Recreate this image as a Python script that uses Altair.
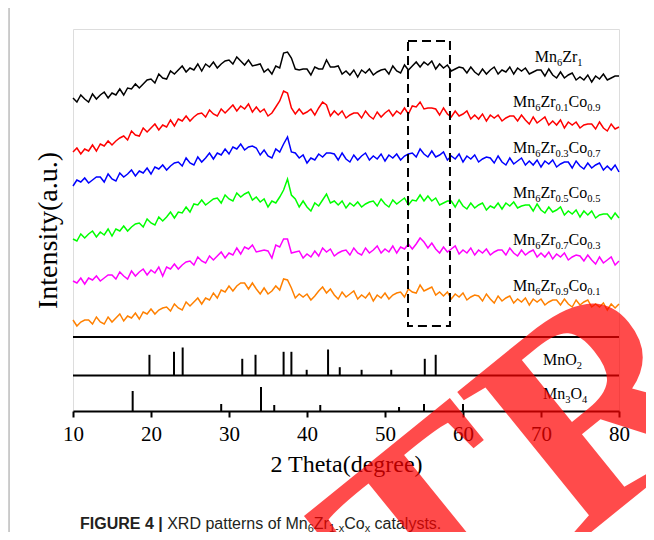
import altair as alt
import pandas as pd

# ---------------- data ----------------
theta = [10 + 0.5 * i for i in range(141)]  # 2θ grid, 10..80

black = [313,309,316,312,309,317,312,316,319,313, 318,316,322,316,323,322,327,323,327,331,
         332,328,337,333,332,340,337,341,345,339, 343,341,347,340,347,344,349,343,347,350,
         351,347,354,350,346,351,345,346,347,339, 342,337,345,343,358,359,353,342,341,342,
         342,336,344,342,342,351,344,344,345,337, 340,336,341,334,341,338,342,336,339,341,
         342,337,345,340,338,346,341,345,349,344, 349,346,350,342,347,343,346,340,342,344,
         343,338,344,339,336,342,337,341,344,337, 341,339,344,337,343,340,343,337,339,341,
         341,335,342,336,333,339,333,336,338,331, 334,331,336,329,335,332,337,331,333,335,
         335]
red = [259,263,257,262,260,266,260,267,265,270, 266,270,273,275,271,280,276,275,283,279,
       283,287,281,286,284,291,285,292,290,295, 290,294,297,298,294,301,297,295,302,298,
       302,306,300,305,302,307,299,304,299,302, 295,298,304,310,320,318,303,297,302,297,
       299,302,296,303,309,306,295,300,296,300, 293,296,298,298,293,300,295,292,299,294,
       298,301,295,300,297,303,297,305,304,309, 302,303,303,302,296,303,297,294,300,295,
       297,300,292,296,292,297,290,296,293,296, 290,293,295,295,290,296,291,287,294,288,
       291,294,286,290,286,291,283,289,286,289, 283,286,287,287,282,289,283,280,287,282,
       284]
blue = [225,231,229,233,228,231,234,234,229,237, 232,230,238,234,237,241,235,240,238,243,
        237,244,242,246,241,245,248,249,245,253, 248,246,254,249,253,258,252,258,256,262,
        257,264,262,267,261,264,265,263,256,261, 255,253,262,259,267,274,259,258,253,256,
        248,253,251,257,254,258,258,257,251,258, 252,249,256,251,255,258,251,255,252,257,
        250,256,253,257,251,255,257,258,254,262, 257,254,260,254,256,259,251,255,252,257,
        249,255,252,256,249,252,254,253,248,255, 249,246,253,247,250,253,246,250,246,251,
        244,250,247,251,244,247,249,249,243,250, 245,242,248,243,246,248,241,245,241,246,
        239]
green = [172,170,177,173,177,180,174,179,176,182, 175,182,180,185,180,184,187,188,184,192,
         188,186,194,190,194,199,193,199,198,204, 199,207,206,211,206,209,212,213,208,216,
         212,210,218,214,217,219,211,214,209,212, 204,210,208,214,221,232,216,212,204,210,
         204,200,208,205,211,217,208,210,206,210, 203,208,205,209,204,207,209,210,205,212,
         207,204,211,207,210,213,206,211,210,216, 210,215,210,213,206,208,210,210,204,211,
         205,202,208,203,206,208,201,205,203,208, 202,208,205,209,203,205,206,206,200,207,
         201,198,204,199,201,204,196,200,197,201, 194,200,196,200,193,196,197,197,192,198,
         193]
magenta = [130,128,133,127,133,131,135,130,133,136, 136,132,139,135,132,140,135,139,142,136,
           141,138,144,135,144,142,147,142,146,149, 150,146,154,150,148,155,151,155,159,153,
           158,156,163,157,164,162,166,159,160,161, 160,153,166,164,172,172,158,159,160,153,
           157,154,160,155,163,159,162,155,158,160, 161,156,163,158,156,163,158,161,165,158,
           162,159,165,158,164,162,167,162,167,173, 169,163,168,162,158,164,159,162,165,157,
           161,158,163,156,161,158,162,156,159,161, 161,156,163,158,155,161,156,159,161,154,
           158,154,159,152,157,154,158,151,154,156, 155,150,156,151,147,154,148,151,154,146,
           150]
orange = [91,85,89,91,91,87,94,89,87,94, 89,93,97,90,95,93,98,92,99,97,
          102,97,101,103,104,100,107,103,101,109, 105,109,113,107,113,111,118,113,121,119,
          125,120,125,128,128,122,128,122,117,123, 117,120,125,121,132,131,123,113,117,114,
          117,111,115,120,124,118,122,116,112,119, 114,117,120,112,116,113,118,110,116,113,
          118,112,116,118,119,114,122,119,118,126, 120,122,124,116,119,115,119,112,117,114,
          118,111,114,116,115,110,117,112,108,115, 110,113,115,108,112,109,113,106,112,109,
          112,106,109,111,111,106,112,107,104,111, 106,109,111,104,107,104,108,101,107,103,
          107]

sample_names = ["Mn6Zr1", "Mn6Zr0.1Co0.9", "Mn6Zr0.3Co0.7",
                "Mn6Zr0.5Co0.5", "Mn6Zr0.7Co0.3", "Mn6Zr0.9Co0.1"]
sample_colors = ["#000000", "#ff0000", "#0000ff", "#00ff00", "#ff00ff", "#ff8000"]
sample_series = [black, red, blue, green, magenta, orange]

# label pieces: (text, kind) ; kind "n" normal, "s" subscript
label_parts = [
    [("Mn", "n"), ("6", "s"), ("Zr", "n"), ("1", "s")],
    [("Mn", "n"), ("6", "s"), ("Zr", "n"), ("0.1", "s"), ("Co", "n"), ("0.9", "s")],
    [("Mn", "n"), ("6", "s"), ("Zr", "n"), ("0.3", "s"), ("Co", "n"), ("0.7", "s")],
    [("Mn", "n"), ("6", "s"), ("Zr", "n"), ("0.5", "s"), ("Co", "n"), ("0.5", "s")],
    [("Mn", "n"), ("6", "s"), ("Zr", "n"), ("0.7", "s"), ("Co", "n"), ("0.3", "s")],
    [("Mn", "n"), ("6", "s"), ("Zr", "n"), ("0.9", "s"), ("Co", "n"), ("0.1", "s")],
]
label_x = [69.2, 66.4, 66.4, 66.4, 66.4, 66.4]
label_y = [349, 304, 258, 213, 166, 120]

# reference patterns (stick positions in 2θ and relative heights)
mno2_pos = [19.8, 22.95, 24.06, 31.7, 33.4, 37.0, 38.0, 39.96, 42.7, 44.2, 47.0, 50.8, 55.1, 56.5]
mno2_h = [20.7, 23.7, 28, 16.7, 20.7, 23.7, 23.7, 5.7, 26, 8.3, 5.7, 5.7, 16.7, 20.7]
mn3o4_pos = [17.65, 29.0, 34.1, 35.8, 41.7, 51.8, 55.0, 60.0]
mn3o4_h = [20, 7, 24, 6, 6, 4, 7, 7]
panel_base = [35.5, 0]          # baselines of the MnO2 / Mn3O4 strips
panel_sep = [74, 35.5]          # separator lines
ref_parts = [[("MnO", "n"), ("2", "s")],
             [("Mn", "n"), ("3", "s"), ("O", "n"), ("4", "s")]]
ref_x = [70.26, 70.26]
ref_y = [46, 12]

box = {"x1": 52.95, "x2": 58.33, "y1": 85, "y2": 370}

caption_parts = [("FIGURE 4 |", "b"), (" XRD patterns of Mn", "n"), ("6", "s"), ("Zr", "n"),
                 ("1-x", "s"), ("Co", "n"), ("x", "s"), (" catalysts.", "n")]
caption_x, caption_y = 10.9, -118

stamp = {"x": 99.0, "y": 136, "text": "RETRACTED"}

# ---------------- helpers ----------------
PX_PER_DEG = 546 / 70
TIMES = {"M": 889, "n": 500, "Z": 611, "r": 333, "C": 667, "o": 500, "O": 722,
         ".": 250, " ": 250}
ARIAL = {" ": 278, "X": 667, "R": 722, "D": 722, "p": 556, "a": 556, "t": 278, "e": 556,
         "r": 333, "n": 556, "s": 500, "o": 556, "f": 278, "M": 833, "Z": 611, "C": 722,
         "c": 500, "l": 222, "y": 500, ".": 278, "-": 333, "x": 500}
ARIAL_B = {"F": 611, "I": 278, "G": 778, "U": 722, "R": 722, "E": 667, " ": 278, "4": 556, "|": 280}
for d in "0123456789":
    TIMES[d] = 500
    ARIAL[d] = 556


def seg_rows(parts, x0, y0, tables, sizes, drop):
    rows, cum = [], 0.0
    for text, kind in parts:
        tab, size = tables[kind], sizes[kind]
        w = lambda s: sum(tab[c] for c in s) * size / 1000
        lead = text[: len(text) - len(text.lstrip(" "))]
        rows.append({"x": x0 + (cum + w(lead)) / PX_PER_DEG,
                     "y": y0 - (drop if kind == "s" else 0),
                     "text": text.strip(), "kind": kind})
        cum += w(text)
    return rows


xs = alt.Scale(domain=[10, 80], nice=False, zero=False)
ys = alt.Scale(domain=[0, 382], nice=False, zero=False)
SERIF = "Liberation Serif"
x_axis = alt.Axis(values=[10, 20, 30, 40, 50, 60, 70, 80], format="d", grid=False,
                  title="2 Theta(degree)", titleFont=SERIF, titleFontSize=24,
                  titleFontWeight="normal", titleColor="black", titlePadding=8,
                  labelFont=SERIF, labelFontSize=21, labelColor="black", labelFlush=False,
                  labelPadding=6, tickSize=6, tickWidth=2, tickColor="black",
                  domainColor="black", domainWidth=2)
y_axis = alt.Axis(title="Intensity(a.u.)", labels=False, ticks=False, domain=False, grid=False,
                  titleFont=SERIF, titleFontSize=28, titleFontWeight="normal",
                  titleColor="black", titleAngle=270, titleX=-25, titleY=201,
                  titleAlign="center", titleBaseline="middle")


def X(f):
    return alt.X(f, type="quantitative", scale=xs, axis=x_axis)


def Y(f):
    return alt.Y(f, type="quantitative", scale=ys, axis=y_axis)


# ---------------- layers ----------------
rows = []
for name, vals in zip(sample_names, sample_series):
    assert len(vals) == len(theta)
    for t, v in zip(theta, vals):
        rows.append({"theta": t, "intensity": v, "sample": name})
traces = alt.Chart(pd.DataFrame(rows)).mark_line(strokeWidth=1.5).encode(
    x=X("theta"), y=Y("intensity"),
    color=alt.Color("sample:N", scale=alt.Scale(domain=sample_names, range=sample_colors),
                    legend=None),
    detail="sample:N",
)

sep = alt.Chart(pd.DataFrame({"y": panel_sep})).mark_rule(color="black", strokeWidth=2).encode(
    y=Y("y"))

stick_rows = []
for pos, h in zip(mno2_pos, mno2_h):
    stick_rows.append({"x": pos, "y": panel_base[0], "y2": panel_base[0] + h})
for pos, h in zip(mn3o4_pos, mn3o4_h):
    stick_rows.append({"x": pos, "y": panel_base[1], "y2": panel_base[1] + h})
sticks = alt.Chart(pd.DataFrame(stick_rows)).mark_rule(color="black", strokeWidth=2).encode(
    x=X("x"), y=Y("y"), y2="y2:Q")

dash = alt.Chart(pd.DataFrame([box])).mark_rect(
    fillOpacity=0, stroke="black", strokeWidth=2, strokeDash=[9, 5]).encode(
    x=X("x1"), x2="x2:Q", y=Y("y1"), y2="y2:Q")

border = alt.Chart(pd.DataFrame({"x": [1.8], "y": [420], "y2": [-140]})).mark_rule(
    color="#9a9a9a", strokeWidth=1).encode(x=X("x"), y=Y("y"), y2="y2:Q")

lab_rows = []
for parts, lx, ly in zip(label_parts + ref_parts, label_x + ref_x, label_y + ref_y):
    lab_rows += seg_rows(parts, lx, ly, {"n": TIMES, "s": TIMES}, {"n": 16, "s": 10.5}, 4)
lab_df = pd.DataFrame(lab_rows)
lab_main = alt.Chart(lab_df[lab_df.kind == "n"]).mark_text(
    font=SERIF, fontSize=16, align="left", baseline="alphabetic", color="black").encode(
    x=X("x"), y=Y("y"), text="text:N")
lab_sub = alt.Chart(lab_df[lab_df.kind == "s"]).mark_text(
    font=SERIF, fontSize=10.5, align="left", baseline="alphabetic", color="black").encode(
    x=X("x"), y=Y("y"), text="text:N")

cap_df = pd.DataFrame(seg_rows(caption_parts, caption_x, caption_y,
                               {"b": ARIAL_B, "n": ARIAL, "s": ARIAL},
                               {"b": 16, "n": 16, "s": 11}, 3))
SANS = "Liberation Sans"
cap_b = alt.Chart(cap_df[cap_df.kind == "b"]).mark_text(
    font=SANS, fontSize=16, fontWeight="bold", align="left", baseline="alphabetic",
    color="#231f20").encode(x=X("x"), y=Y("y"), text="text:N")
cap_n = alt.Chart(cap_df[cap_df.kind == "n"]).mark_text(
    font=SANS, fontSize=16, align="left", baseline="alphabetic",
    color="#231f20").encode(x=X("x"), y=Y("y"), text="text:N")
cap_s = alt.Chart(cap_df[cap_df.kind == "s"]).mark_text(
    font=SANS, fontSize=11, align="left", baseline="alphabetic",
    color="#231f20").encode(x=X("x"), y=Y("y"), text="text:N")

wm = alt.Chart(pd.DataFrame([stamp])).mark_text(
    font=SERIF, fontSize=295, fontWeight="bold", align="center", baseline="middle",
    angle=321, color="#ff0000", opacity=0.7).encode(x=X("x"), y=Y("y"), text="text:N")

chart = alt.layer(border, traces, sep, sticks, dash, lab_main, lab_sub,
                  cap_b, cap_n, cap_s, wm).properties(
    width=546, height=382,
    autosize=alt.AutoSizeParams(type="none"),
    padding={"left": 65, "top": 21, "right": 27, "bottom": 121},
).configure_view(stroke="black", strokeWidth=2).configure(background="white")

chart.save("out.html", embed_options={"renderer": "svg", "actions": False})
